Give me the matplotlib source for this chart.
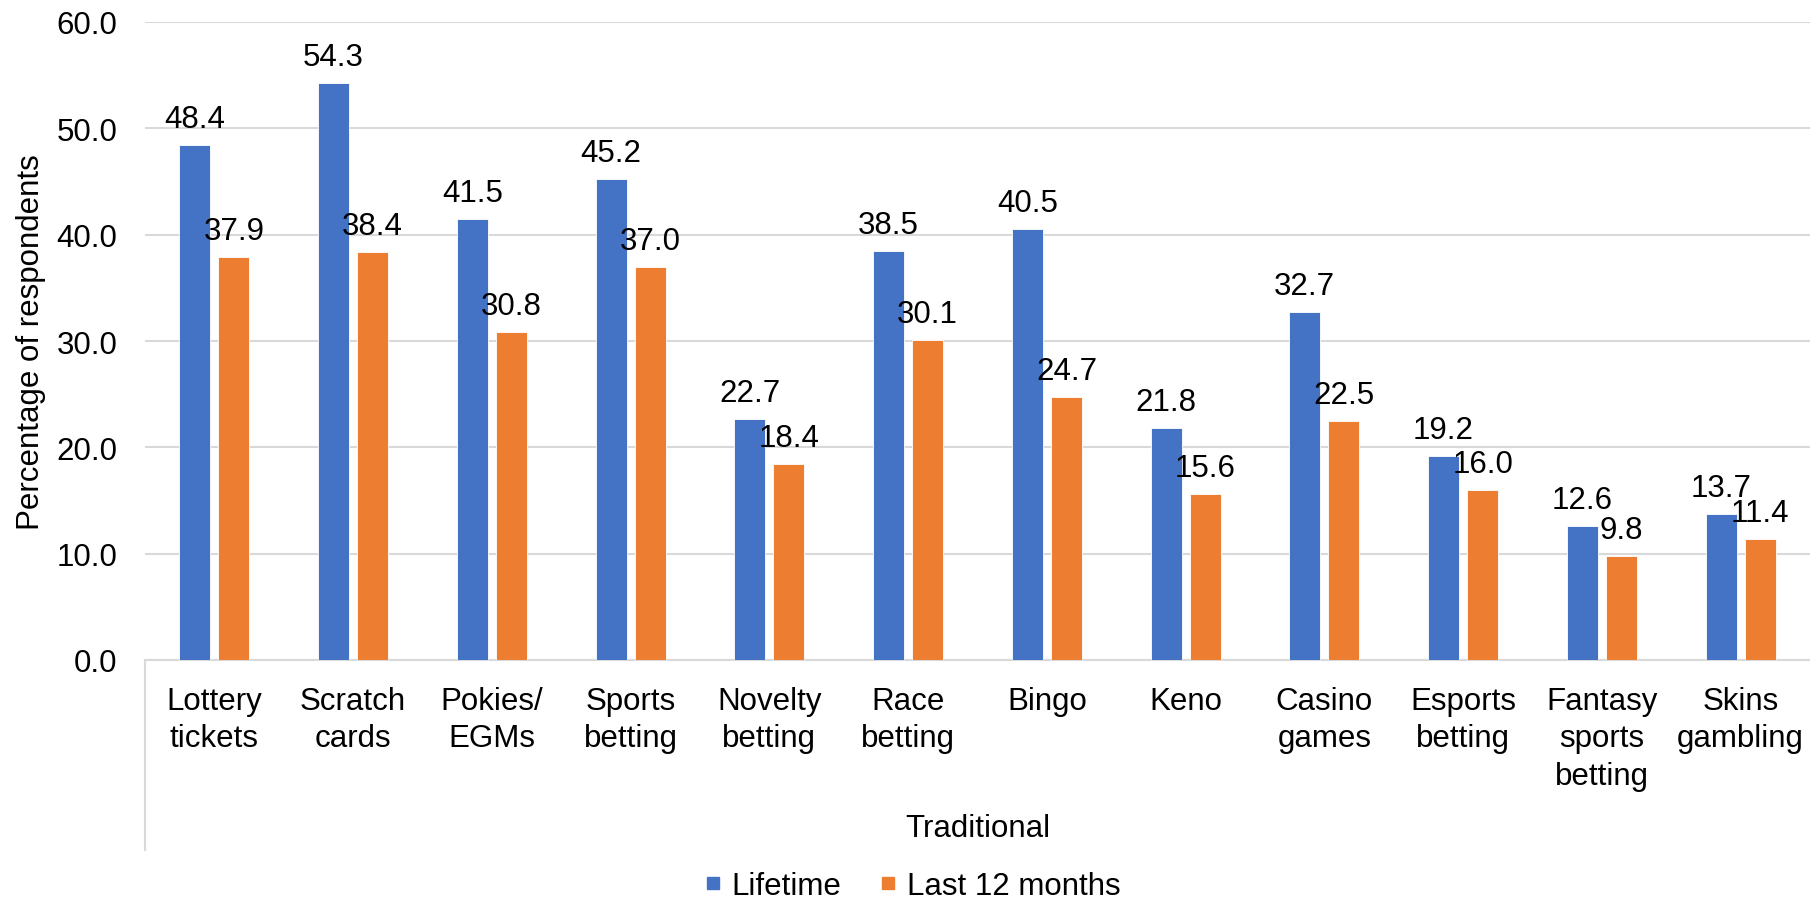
import matplotlib
matplotlib.use("Agg")
import matplotlib.pyplot as plt
from matplotlib.lines import Line2D
import numpy as np

categories = ["Lottery\ntickets", "Scratch\ncards", "Pokies/\nEGMs", "Sports\nbetting",
              "Novelty\nbetting", "Race\nbetting", "Bingo", "Keno", "Casino\ngames",
              "Esports\nbetting", "Fantasy\nsports\nbetting", "Skins\ngambling"]
lifetime = [48.4, 54.3, 41.5, 45.2, 22.7, 38.5, 40.5, 21.8, 32.7, 19.2, 12.6, 13.7]
last12 = [37.9, 38.4, 30.8, 37.0, 18.4, 30.1, 24.7, 15.6, 22.5, 16.0, 9.8, 11.4]
series_names = ["Lifetime", "Last 12 months"]
yticks = [0, 10, 20, 30, 40, 50, 60]
group_label = "Traditional"
y_label = "Percentage of respondents"

BLUE = "#4472C4"
ORANGE = "#ED7D31"
GRID = "#D9D9D9"
FS = 22.5

plt.rcParams['font.family'] = ['Liberation Sans', 'DejaVu Sans']

W, H = 1810, 903
fig = plt.figure(figsize=(W / 100, H / 100), dpi=100)
left, right, top, bottom = 145, 1810, 23, 661
ax = fig.add_axes([left / W, 1 - bottom / H, (right - left) / W, (bottom - top) / H])

x = np.arange(len(categories))
bw = 0.224
off = 0.141
b1 = ax.bar(x - off, lifetime, bw, color=BLUE, edgecolor="white", linewidth=0.6, zorder=3)
b2 = ax.bar(x + off, last12, bw, color=ORANGE, edgecolor="white", linewidth=0.6, zorder=3)

for bars, vals in ((b1, lifetime), (b2, last12)):
    for r, v in zip(bars, vals):
        ax.annotate(f"{v:.1f}", (r.get_x() + r.get_width() / 2, r.get_height()),
                    xytext=(0, 13), textcoords="offset points",
                    ha="center", va="baseline", fontsize=FS, color="black", zorder=4)

ax.set_xlim(-0.5, len(categories) - 0.5)
ax.set_ylim(0, 60)
ax.set_yticks(yticks)
ax.set_yticklabels([f"{t:.1f}" for t in yticks], fontsize=FS)
ax.set_xticks(x)
ax.set_xticklabels(categories, fontsize=FS, linespacing=1.33)
ax.tick_params(axis="y", length=0, pad=20)
ax.tick_params(axis="x", length=0, pad=18.5)
ax.yaxis.grid(True, color=GRID, linewidth=1.5, zorder=0)
ax.set_axisbelow(True)
for s in ["top", "right", "left"]:
    ax.spines[s].set_visible(False)
ax.spines["bottom"].set_color(GRID)
ax.spines["bottom"].set_linewidth(1.5)

# left category-axis separator line
fig.add_artist(Line2D([left / W, left / W], [1 - bottom / H, 1 - 851 / H],
                      color=GRID, linewidth=1.5))

fig.text(31 / W, 1 - 342 / H, y_label, rotation=90, ha="center", va="center", fontsize=FS)
fig.text((left + right) / 2 / W, 1 - 829 / H, group_label, ha="center", va="center", fontsize=FS)

handles = [Line2D([], [], marker="s", linestyle="none", markersize=9, color=BLUE),
           Line2D([], [], marker="s", linestyle="none", markersize=9, color=ORANGE)]
fig.legend(handles, series_names, loc="center", bbox_to_anchor=(912 / W, 1 - 887 / H),
           ncol=2, frameon=False, fontsize=FS, handlelength=0.6, handletextpad=0.3,
           columnspacing=1.2, borderaxespad=0, borderpad=0)

fig.savefig("out.png", dpi=100)
